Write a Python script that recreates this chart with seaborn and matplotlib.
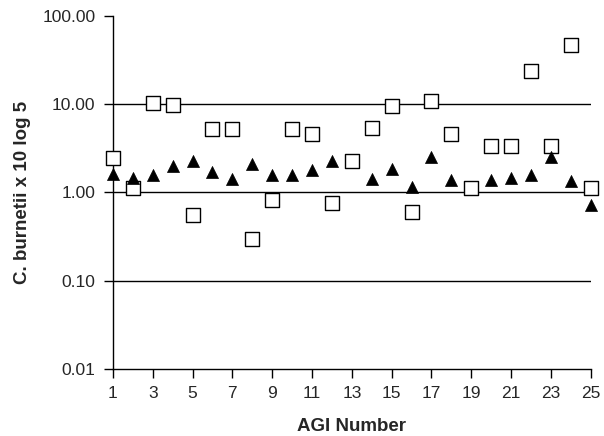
import numpy as np
import pandas as pd
import matplotlib
matplotlib.use("Agg")
import matplotlib.pyplot as plt
import seaborn as sns
from matplotlib.ticker import FixedLocator, FuncFormatter

agi = list(range(1, 26))
squares = [2.47, 1.13, 10.3, 9.7, 0.56, 5.3, 5.3, 0.30, 0.83, 5.3,
           4.6, 0.76, 2.26, 5.4, 9.5, 0.60, 10.8, 4.6, 1.13, 3.35,
           3.35, 23.6, 3.35, 47.4, 1.13]
triangles = [1.60, 1.47, 1.57, 1.99, 2.30, 1.71, 1.43, 2.13, 1.57, 1.57,
             1.82, 2.30, np.nan, 1.44, 1.85, 1.15, 2.54, 1.37, np.nan, 1.37,
             1.47, 1.57, 2.50, 1.35, 0.73]
x_ticks = list(range(1, 26, 2))
y_ticks = [0.01, 0.1, 1, 10, 100]
grid_levels = [0.1, 1, 10]

sns.set_style("white")
plt.rcParams['font.family'] = ['Liberation Sans', 'DejaVu Sans']

df_sq = pd.DataFrame({"agi": agi, "value": squares})
df_tr = pd.DataFrame({"agi": agi, "value": triangles}).dropna()

fig = plt.figure(figsize=(6.04, 4.36), dpi=100)
ax = fig.add_axes([0.187, 0.154, 0.791, 0.809])

for lv in grid_levels:
    ax.axhline(lv, color="black", lw=1.0, zorder=1)

sns.scatterplot(data=df_sq, x="agi", y="value", marker="s", s=100,
                facecolor="white", edgecolor="black", linewidth=1.0,
                ax=ax, zorder=3)
sns.scatterplot(data=df_tr, x="agi", y="value", marker="^", s=75,
                color="black", edgecolor="black", linewidth=0.5,
                ax=ax, zorder=4)

ax.set_yscale("log")
ax.set_ylim(0.01, 100)
ax.set_xlim(1, 25)
ax.yaxis.set_major_locator(FixedLocator(y_ticks))
ax.yaxis.set_minor_locator(FixedLocator([]))
ax.yaxis.set_major_formatter(FuncFormatter(lambda v, p: f"{v:.2f}"))
ax.set_xticks(x_ticks)

for side in ["top", "right"]:
    ax.spines[side].set_visible(False)
for side in ["left", "bottom"]:
    ax.spines[side].set_color("black")
    ax.spines[side].set_linewidth(1.0)

ax.tick_params(axis="both", direction="out", length=6.5, width=1.0,
               color="black", labelsize=12.5, pad=6, left=True, bottom=True)
ax.set_xlabel("AGI Number", fontsize=13.5, fontweight="bold", labelpad=12)
ax.set_ylabel("C. burnetii x 10 log 5", fontsize=13.5, fontweight="bold",
              labelpad=8)
for c in ax.collections:
    c.set_clip_on(False)

fig.savefig("out.png", dpi=100)
